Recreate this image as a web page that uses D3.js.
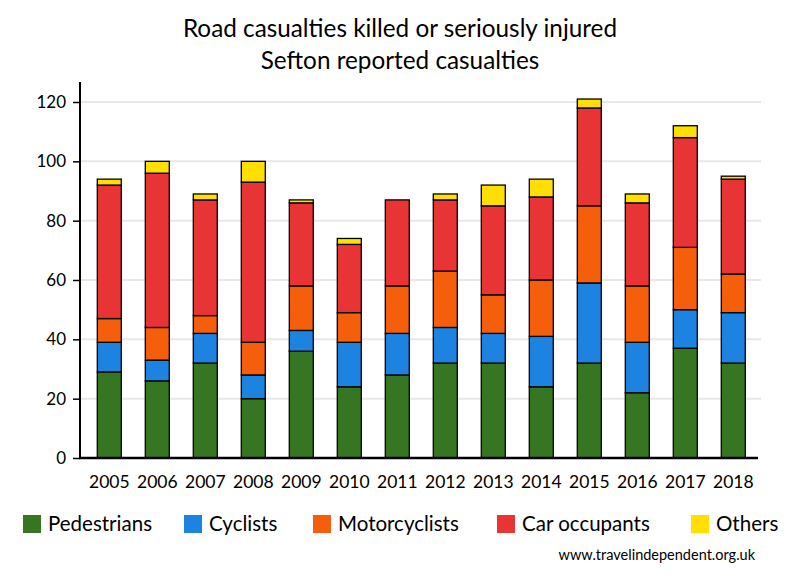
<!DOCTYPE html>
<html><head><meta charset="utf-8">
<script src="https://cdn.jsdelivr.net/npm/d3@7"></script>
<style>body{margin:0;background:#fff}svg{display:block}text{font-family:Lato,"Open Sans",sans-serif;fill:#000}</style>
</head><body><svg id="c" width="800" height="580"></svg>
<script>
const years = ["2005","2006","2007","2008","2009","2010","2011","2012","2013","2014","2015","2016","2017","2018"];
const pedestrians   = [29,26,32,20,36,24,28,32,32,24,32,22,37,32];
const cyclists      = [10, 7,10, 8, 7,15,14,12,10,17,27,17,13,17];
const motorcyclists = [ 8,11, 6,11,15,10,16,19,13,19,26,19,21,13];
const carOccupants  = [45,52,39,54,28,23,29,24,30,28,33,28,37,32];
const others        = [ 2, 4, 2, 7, 1, 2, 0, 2, 7, 6, 3, 3, 4, 1];
const seriesNames = ["Pedestrians","Cyclists","Motorcyclists","Car occupants","Others"];
const seriesColors = ["#367522","#1c83e1","#f55e0b","#e83434","#ffdf00"];
const yTicks = [0,20,40,60,80,100,120];
const titleLines = ["Road casualties killed or seriously injured","Sefton reported casualties"];
const sourceText = "www.travelindependent.org.uk";

const seriesData = [pedestrians,cyclists,motorcyclists,carOccupants,others];
const rows = years.map((y,i)=>{const r={year:y}; seriesNames.forEach((s,k)=>r[s]=seriesData[k][i]); return r;});
const stacked = d3.stack().keys(seriesNames)(rows);

const svg = d3.select("#c");
const x = d3.scaleBand().domain(years).range([85.3,757.3]).paddingInner(0.5).paddingOuter(0.25);
const y = d3.scaleLinear().domain([0,120]).range([458,102]);

// title
svg.selectAll("text.title").data(titleLines).join("text")
  .attr("x",400).attr("y",(d,i)=>37+i*31.5).attr("text-anchor","middle")
  .style("font-size","24.3px").text(d=>d);

// gridlines
svg.append("g").selectAll("line").data(yTicks.filter(t=>t>0)).join("line")
  .attr("x1",80).attr("x2",761).attr("y1",d=>y(d)).attr("y2",d=>y(d))
  .attr("stroke","#e8e8e8").attr("stroke-width",2);

// bars
const g = svg.append("g");
stacked.forEach((layer,k)=>{
  g.selectAll(null).data(layer.filter(d=>d[1]-d[0]>0)).join("rect")
    .attr("x",d=>x(d.data.year)).attr("width",x.bandwidth())
    .attr("y",d=>y(d[1])).attr("height",d=>y(d[0])-y(d[1]))
    .attr("fill",seriesColors[k]).attr("stroke","#000").attr("stroke-width",1.3);
});

// y axis
const ya = svg.append("g").attr("transform","translate(80,0)")
  .call(d3.axisLeft(y).tickValues(yTicks).tickSize(7).tickPadding(7));
ya.select(".domain").attr("d","M0,82V459").attr("stroke","#000").attr("stroke-width",2);
ya.selectAll(".tick line").attr("stroke","#000").attr("stroke-width",1.5);
ya.selectAll(".tick text").style("font-size","17px").style("font-family","Lato,'Open Sans',sans-serif").attr("fill","#000");

// x axis
const xa = svg.append("g").attr("transform","translate(0,458)")
  .call(d3.axisBottom(x).tickSize(0).tickPadding(18));
xa.select(".domain").attr("d","M79,0H758").attr("stroke","#000").attr("stroke-width",2.5);
xa.selectAll(".tick text").style("font-size","17.5px").style("font-family","Lato,'Open Sans',sans-serif").attr("fill","#000");

// legend
const legX = [23,184,313,497,691];
const leg = svg.append("g").selectAll("g").data(seriesNames).join("g")
  .attr("transform",(d,i)=>`translate(${legX[i]},0)`);
leg.append("rect").attr("x",0).attr("y",515).attr("width",18).attr("height",18)
  .attr("fill",(d,i)=>seriesColors[i]);
leg.append("text").attr("x",25).attr("y",531).style("font-size","20.5px").text(d=>d);

svg.append("text").attr("x",755).attr("y",560).attr("text-anchor","end")
  .style("font-size","14.5px").text(sourceText);
</script></body></html>
